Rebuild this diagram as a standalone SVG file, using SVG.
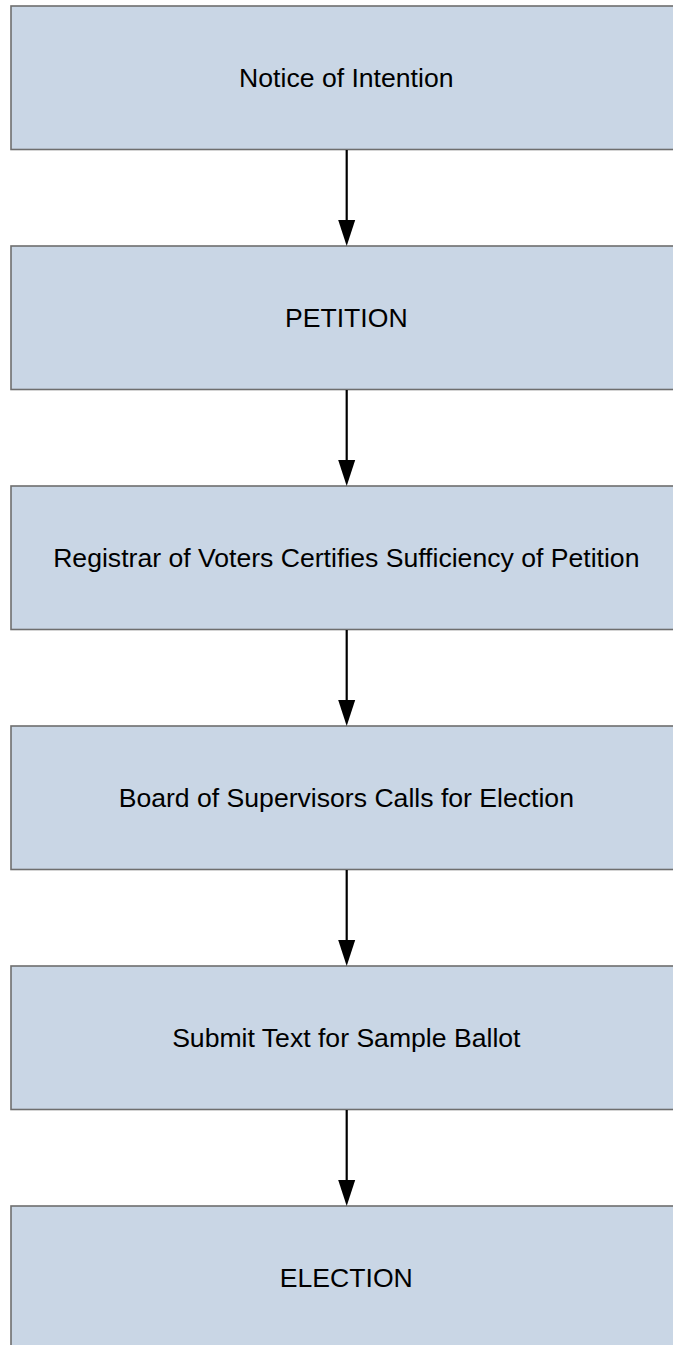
<svg xmlns="http://www.w3.org/2000/svg" width="673" height="1345" viewBox="0 0 673 1345">
<style>
.box{fill:#C9D6E5;stroke:#6E6E6E;stroke-width:1.6}
.lbl{font-family:"Liberation Sans",Arial,sans-serif;font-size:26.6px;fill:#000;text-anchor:middle}
.edge{stroke:#000;stroke-width:2.2;fill:none}
.head{fill:#000}
</style>
<rect x="0" y="0" width="673" height="1345" fill="#FFFFFF"/>
<g id="n1"><rect class="box" x="11" y="6" width="671" height="143.5"/><text class="lbl" x="346.3" y="87">Notice of Intention</text></g>
<g id="n2"><rect class="box" x="11" y="246" width="671" height="143.5"/><text class="lbl" x="346.3" y="327">PETITION</text></g>
<g id="n3"><rect class="box" x="11" y="486" width="671" height="143.5"/><text class="lbl" x="346.3" y="567">Registrar of Voters Certifies Sufficiency of Petition</text></g>
<g id="n4"><rect class="box" x="11" y="726" width="671" height="143.5"/><text class="lbl" x="346.3" y="807">Board of Supervisors Calls for Election</text></g>
<g id="n5"><rect class="box" x="11" y="966" width="671" height="143.5"/><text class="lbl" x="346.3" y="1047">Submit Text for Sample Ballot</text></g>
<g id="n6"><rect class="box" x="11" y="1206" width="671" height="143.5"/><text class="lbl" x="346.3" y="1287">ELECTION</text></g>
<g id="connectors">
<g id="e1"><line class="edge" x1="346.7" y1="150" x2="346.7" y2="222"/><polygon class="head" points="338.2,220 355.2,220 346.7,246"/></g>
<g id="e2"><line class="edge" x1="346.7" y1="390" x2="346.7" y2="462"/><polygon class="head" points="338.2,460 355.2,460 346.7,486"/></g>
<g id="e3"><line class="edge" x1="346.7" y1="630" x2="346.7" y2="702"/><polygon class="head" points="338.2,700 355.2,700 346.7,726"/></g>
<g id="e4"><line class="edge" x1="346.7" y1="870" x2="346.7" y2="942"/><polygon class="head" points="338.2,940 355.2,940 346.7,966"/></g>
<g id="e5"><line class="edge" x1="346.7" y1="1110" x2="346.7" y2="1182"/><polygon class="head" points="338.2,1180 355.2,1180 346.7,1206"/></g>
</g>
</svg>
